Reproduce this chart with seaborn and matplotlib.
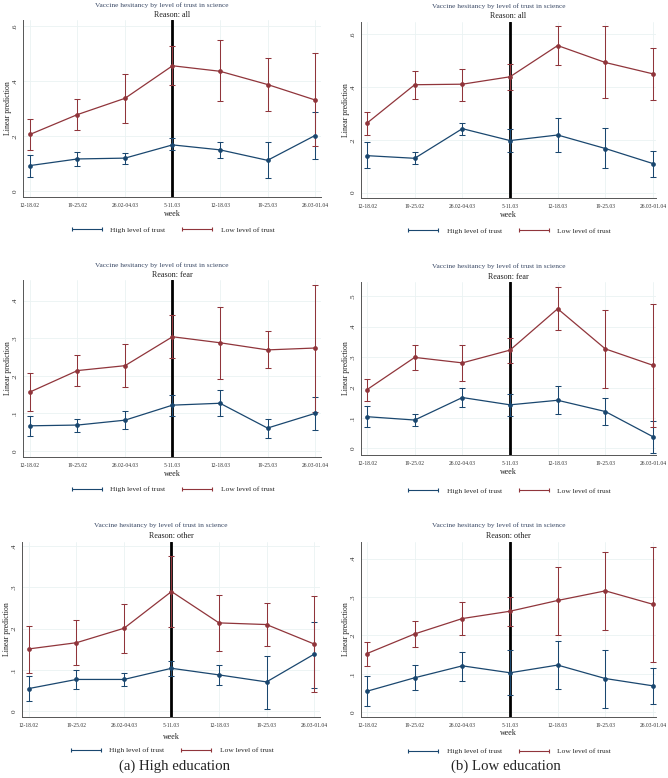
import pandas as pd
import seaborn as sns
import matplotlib
matplotlib.use("Agg")
import matplotlib.pyplot as plt
from matplotlib.lines import Line2D
from matplotlib.ticker import FuncFormatter

weeks = ["12-18.02", "19-25.02", "26.02-04.03", "5-11.03", "12-18.03", "19-25.03", "26.03-01.04"]
trust_levels = ["High level of trust", "Low level of trust"]

# (a) High education, reason: all
he_all_high = [0.093, 0.117, 0.120, 0.168, 0.150, 0.112, 0.202]
he_all_high_lo = [0.053, 0.092, 0.098, 0.148, 0.120, 0.047, 0.116]
he_all_high_hi = [0.130, 0.144, 0.140, 0.192, 0.180, 0.177, 0.287]
he_all_low = [0.206, 0.278, 0.337, 0.455, 0.435, 0.387, 0.331]
he_all_low_lo = [0.149, 0.221, 0.247, 0.385, 0.326, 0.291, 0.163]
he_all_low_hi = [0.261, 0.334, 0.426, 0.525, 0.547, 0.482, 0.500]

# (b) Low education, reason: all
le_all_high = [0.140, 0.130, 0.242, 0.197, 0.218, 0.167, 0.110]
le_all_high_lo = [0.092, 0.108, 0.219, 0.153, 0.154, 0.092, 0.061]
le_all_high_hi = [0.190, 0.153, 0.265, 0.240, 0.281, 0.243, 0.158]
le_all_low = [0.263, 0.408, 0.410, 0.438, 0.556, 0.492, 0.449]
le_all_low_lo = [0.219, 0.354, 0.348, 0.389, 0.484, 0.356, 0.352]
le_all_low_hi = [0.304, 0.459, 0.468, 0.487, 0.628, 0.628, 0.548]

# (a) High education, reason: fear
he_fear_high = [0.067, 0.069, 0.082, 0.122, 0.127, 0.061, 0.100]
he_fear_high_lo = [0.041, 0.051, 0.059, 0.094, 0.093, 0.035, 0.055]
he_fear_high_hi = [0.092, 0.084, 0.106, 0.148, 0.161, 0.086, 0.144]
he_fear_low = [0.157, 0.214, 0.227, 0.304, 0.288, 0.269, 0.274]
he_fear_low_lo = [0.106, 0.172, 0.170, 0.247, 0.191, 0.220, 0.104]
he_fear_low_hi = [0.208, 0.255, 0.284, 0.362, 0.384, 0.319, 0.441]

# (b) Low education, reason: fear
le_fear_high = [0.104, 0.093, 0.167, 0.143, 0.158, 0.121, 0.038]
le_fear_high_lo = [0.069, 0.072, 0.135, 0.107, 0.112, 0.077, -0.014]
le_fear_high_hi = [0.140, 0.113, 0.198, 0.178, 0.204, 0.164, 0.091]
le_fear_low = [0.193, 0.299, 0.281, 0.323, 0.459, 0.327, 0.273]
le_fear_low_lo = [0.157, 0.258, 0.223, 0.282, 0.388, 0.197, 0.071]
le_fear_low_hi = [0.229, 0.341, 0.339, 0.364, 0.531, 0.454, 0.474]

# (a) High education, reason: other
he_other_high = [0.055, 0.077, 0.077, 0.104, 0.088, 0.071, 0.138]
he_other_high_lo = [0.024, 0.054, 0.062, 0.085, 0.064, 0.006, 0.056]
he_other_high_hi = [0.085, 0.100, 0.093, 0.122, 0.111, 0.135, 0.217]
he_other_low = [0.151, 0.166, 0.201, 0.290, 0.214, 0.210, 0.163]
he_other_low_lo = [0.093, 0.111, 0.140, 0.204, 0.146, 0.158, 0.046]
he_other_low_hi = [0.207, 0.222, 0.260, 0.376, 0.282, 0.263, 0.278]

# (b) Low education, reason: other
le_other_high = [0.055, 0.090, 0.121, 0.103, 0.123, 0.088, 0.069]
le_other_high_lo = [0.016, 0.057, 0.081, 0.045, 0.060, 0.012, 0.021]
le_other_high_hi = [0.094, 0.122, 0.158, 0.161, 0.185, 0.162, 0.116]
le_other_low = [0.153, 0.204, 0.244, 0.263, 0.291, 0.316, 0.281]
le_other_low_lo = [0.121, 0.169, 0.201, 0.225, 0.201, 0.215, 0.131]
le_other_low_hi = [0.184, 0.238, 0.286, 0.301, 0.379, 0.416, 0.431]

W, H = 668, 778
NAVY = "#1a476f"
MAROON = "#90353b"
GRID = "#eaf2f3"
TITLE_COLOR = "#3b4a66"


def rect(l, r, t, b):
    return [l / W, 1 - b / H, (r - l) / W, (b - t) / H]


def fmt_tick(v, _):
    if abs(v) < 1e-9:
        return "0"
    return ("%.1f" % v).replace("0.", ".")


def make_frame(high, high_lo, high_hi, low, low_lo, low_hi):
    rows = []
    for trust, est, lo, hi in [(trust_levels[0], high, high_lo, high_hi),
                               (trust_levels[1], low, low_lo, low_hi)]:
        for i, w in enumerate(weeks):
            rows.append({"week": w, "pos": i, "trust": trust,
                         "est": est[i], "lo": lo[i], "hi": hi[i]})
    return pd.DataFrame(rows)


def draw_panel(fig, box, xlim, ylim, yticks, reason, title_y, sub_y, legend_y, df, week_pad=1.2):
    ax = fig.add_axes(rect(*box))
    ax.axvline(3, color="black", lw=2.0, zorder=1.5)
    palette = {trust_levels[0]: NAVY, trust_levels[1]: MAROON}
    for trust in trust_levels:
        d = df[df["trust"] == trust]
        ax.errorbar(d["pos"], d["est"], yerr=[d["est"] - d["lo"], d["hi"] - d["est"]],
                    fmt="none", ecolor=palette[trust], elinewidth=0.75, capsize=2.3,
                    capthick=0.75, zorder=2)
    sns.lineplot(data=df, x="pos", y="est", hue="trust", palette=palette, marker="o",
                 markersize=3.4, markeredgewidth=0, linewidth=0.9, legend=False,
                 ax=ax, zorder=3)
    ax.set_xlim(*xlim)
    ax.set_ylim(*ylim)
    ax.set_xticks(range(len(weeks)))
    ax.set_xticklabels(weeks)
    ax.set_yticks(yticks)
    ax.yaxis.set_major_formatter(FuncFormatter(fmt_tick))
    ax.tick_params(axis="x", labelsize=4.0, length=2.4, width=0.5, pad=2.0, color="#555555",
                   labelcolor="#333333")
    ax.tick_params(axis="y", labelsize=5.2, length=2.4, width=0.5, pad=1.5, color="#555555",
                   labelcolor="#333333", labelrotation=90)
    for lab in ax.get_yticklabels():
        lab.set_va("center")
    ax.grid(True, color=GRID, lw=0.6)
    ax.set_axisbelow(True)
    for side in ["top", "right"]:
        ax.spines[side].set_visible(False)
    for side in ["left", "bottom"]:
        ax.spines[side].set_color("#555555")
        ax.spines[side].set_linewidth(0.7)
    ax.set_xlabel("week", fontsize=5.8, labelpad=week_pad, color="#222222")
    ax.set_ylabel("Linear prediction", fontsize=5.6, labelpad=0.6, color="#222222")

    cx = (box[0] + box[1]) / 2
    fig.text((cx - 10) / W, 1 - title_y / H, "Vaccine hesitancy by level of trust in science",
             fontsize=5.3, color=TITLE_COLOR, ha="center", va="center")
    fig.text(cx / W, 1 - sub_y / H, "Reason: " + reason, fontsize=5.9, color="#222222",
             ha="center", va="center")

    handles = [Line2D([0, 1], [0, 0], color=c, lw=0.8, marker="|", markersize=3.5,
                      markeredgewidth=0.8) for c in (NAVY, MAROON)]
    fig.legend(handles, trust_levels, loc="center", bbox_to_anchor=(cx / W, 1 - legend_y / H),
               ncol=2, frameon=False, fontsize=5.4, numpoints=2, handlelength=4.6,
               handletextpad=0.8, columnspacing=2.0)
    return ax


sns.set_theme(style="white")
plt.rcParams["font.family"] = ["Liberation Serif", "DejaVu Serif"]

fig = plt.figure(figsize=(W / 100, H / 100), dpi=100)

left_x = (-0.147, 6.126)
right_x = (-0.126, 6.063)

draw_panel(fig, (23, 321, 20, 197), left_x, (-0.021, 0.621), [0, 0.2, 0.4, 0.6], "all",
           4.7, 15, 230,
           make_frame(he_all_high, he_all_high_lo, he_all_high_hi,
                      he_all_low, he_all_low_lo, he_all_low_hi))
draw_panel(fig, (361, 656, 22, 198), right_x, (-0.02, 0.645), [0, 0.2, 0.4, 0.6], "all",
           6, 16, 230.7,
           make_frame(le_all_high, le_all_high_lo, le_all_high_hi,
                      le_all_low, le_all_low_lo, le_all_low_hi))
draw_panel(fig, (23, 321, 280, 457), left_x, (-0.016, 0.455), [0, 0.1, 0.2, 0.3, 0.4], "fear",
           265, 275, 489.3,
           make_frame(he_fear_high, he_fear_high_lo, he_fear_high_hi,
                      he_fear_low, he_fear_low_lo, he_fear_low_hi))
draw_panel(fig, (361, 656, 282, 455), right_x, (-0.022, 0.547), [0, 0.1, 0.2, 0.3, 0.4, 0.5], "fear",
           266, 276.7, 490.7,
           make_frame(le_fear_high, le_fear_high_lo, le_fear_high_hi,
                      le_fear_low, le_fear_low_lo, le_fear_low_hi))
draw_panel(fig, (22, 320, 542, 717), left_x, (-0.014, 0.41), [0, 0.1, 0.2, 0.3, 0.4], "other",
           525, 535.7, 750,
           make_frame(he_other_high, he_other_high_lo, he_other_high_hi,
                      he_other_low, he_other_low_lo, he_other_low_hi), week_pad=3.5)
draw_panel(fig, (361, 656, 542, 717), right_x, (-0.012, 0.443), [0, 0.1, 0.2, 0.3, 0.4], "other",
           525, 536, 751,
           make_frame(le_other_high, le_other_high_lo, le_other_high_hi,
                      le_other_low, le_other_low_lo, le_other_low_hi), week_pad=0.3)

fig.text(174.5 / W, 1 - 766.7 / H, "(a) High education", fontsize=10.7, ha="center", va="center")
fig.text(506 / W, 1 - 766.7 / H, "(b) Low education", fontsize=10.7, ha="center", va="center")

fig.savefig("out.png", dpi=100)
